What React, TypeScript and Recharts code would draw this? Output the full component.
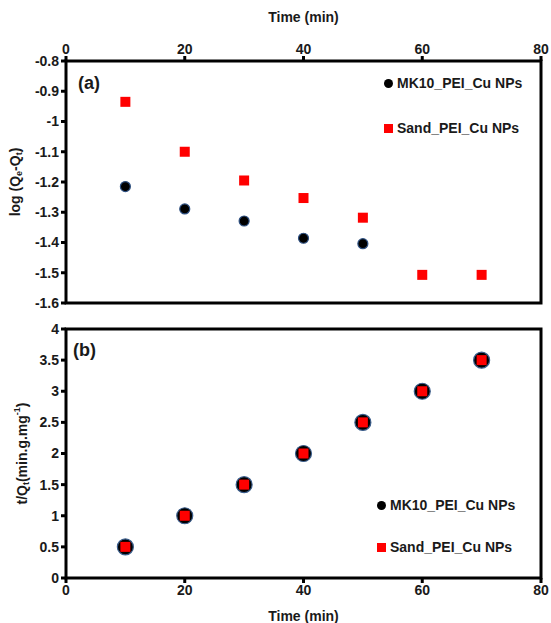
import { ScatterChart, Scatter, XAxis, YAxis, ReferenceArea, Legend } from 'recharts';

const FONT = '"Liberation Sans", Arial, sans-serif';

// time points (min)
const timeMin = [10, 20, 30, 40, 50, 60, 70];
const timeTicks = [0, 20, 40, 60, 80];

// (a) pseudo-first-order: log(Qe - Qt)
const mk10Log = [-1.215, -1.289, -1.329, -1.386, -1.404];
const sandLog = [-0.935, -1.1, -1.195, -1.253, -1.318, -1.507, -1.507];
const logTicks = [-1.6, -1.5, -1.4, -1.3, -1.2, -1.1, -1, -0.9, -0.8];

// (b) pseudo-second-order: t/Qt
const mk10TQ = [0.5, 1.0, 1.5, 2.0, 2.5, 3.0, 3.5];
const sandTQ = [0.5, 1.0, 1.5, 2.0, 2.5, 3.0, 3.5];
const tqTicks = [0, 0.5, 1, 1.5, 2, 2.5, 3, 3.5, 4];

const toPoints = (ys: number[]) => ys.map((y, i) => ({ x: timeMin[i], y }));

const tickStyle = { fill: '#1a1a1a', fontSize: 14, fontWeight: 'bold', fontFamily: FONT };
const tickLine = { stroke: '#000', strokeWidth: 3 };
const RED = '#ff0000';

const circleShape = (r: number, stroke: string) => (props: any) => (
  <circle cx={props.cx} cy={props.cy} r={r} fill="#000" stroke={stroke} strokeWidth={1.2} />
);
const squareShape = (s: number) => (props: any) => (
  <rect x={props.cx - s / 2} y={props.cy - s / 2} width={s} height={s} fill={RED} />
);

const makeLegend = (gap: number) => (props: any) => (
  <div style={{ fontFamily: FONT, fontWeight: 'bold', fontSize: 14, color: '#1a1a1a' }}>
    {(props.payload || []).map((entry: any, i: number) => (
      <div
        key={i}
        style={{ display: 'flex', alignItems: 'center', height: 20, marginBottom: gap, whiteSpace: 'nowrap' }}
      >
        {entry.type === 'square' ? (
          <span style={{ width: 9, height: 9, background: RED, marginRight: 4 }} />
        ) : (
          <span style={{ width: 9, height: 9, borderRadius: 5, background: '#000', marginRight: 4 }} />
        )}
        <span>{entry.value}</span>
      </div>
    ))}
  </div>
);

const panelLabel = (text: string, dx: number, dy: number) => (props: any) => (
  <text
    x={props.viewBox.x + dx}
    y={props.viewBox.y + dy}
    fontFamily={FONT}
    fontWeight="bold"
    fontSize={18}
    fill="#1a1a1a"
  >
    {text}
  </text>
);

const LogLabel = (props: any) => {
  const { x, y, height } = props.viewBox;
  const cx = x + 15;
  const cy = y + height / 2;
  return (
    <text
      transform={`translate(${cx},${cy}) rotate(-90)`}
      textAnchor="middle"
      dominantBaseline="central"
      fontFamily={FONT}
      fontWeight="bold"
      fontSize={14}
      fill="#1a1a1a"
    >
      log (Q<tspan fontSize={9} dy={4}>e</tspan>
      <tspan dy={-4}>-Q</tspan>
      <tspan fontSize={9} dy={4}>t</tspan>
      <tspan dy={-4}>)</tspan>
    </text>
  );
};

const TQLabel = (props: any) => {
  const { x, y, height } = props.viewBox;
  const cx = x + 22;
  const cy = y + height / 2;
  return (
    <text
      transform={`translate(${cx},${cy}) rotate(-90)`}
      textAnchor="middle"
      dominantBaseline="central"
      fontFamily={FONT}
      fontWeight="bold"
      fontSize={14}
      fill="#1a1a1a"
    >
      t/Q<tspan fontSize={9} dy={4}>t</tspan>
      <tspan dy={-4}>(min.g.mg</tspan>
      <tspan fontSize={9} dy={-5}>-1</tspan>
      <tspan dy={5}>)</tspan>
    </text>
  );
};

const axisTitle = { value: 'Time (min)', fill: '#1a1a1a', fontSize: 14, fontWeight: 'bold', fontFamily: FONT };

export default function App() {
  return (
    <div style={{ position: 'absolute', left: 0, top: 0, width: 551, height: 623, background: '#fff' }}>
      <ScatterChart width={551} height={318} margin={{ top: 0, right: 10, bottom: 15, left: 0 }}>
        <XAxis
          type="number"
          dataKey="x"
          orientation="top"
          domain={[0, 80]}
          ticks={timeTicks}
          height={61}
          tick={tickStyle}
          tickLine={tickLine}
          tickSize={5}
          axisLine={false}
          label={{ ...axisTitle, position: 'insideTop', offset: 12 }}
        />
        <YAxis
          type="number"
          dataKey="y"
          domain={[-1.6, -0.8]}
          ticks={logTicks}
          width={66}
          tick={tickStyle}
          tickLine={tickLine}
          tickSize={5}
          axisLine={false}
          label={LogLabel}
        />
        <ReferenceArea
          x1={0}
          x2={80}
          y1={-1.6}
          y2={-0.8}
          fill="none"
          fillOpacity={0}
          stroke="#000"
          strokeWidth={3}
          label={panelLabel('(a)', 12, 28)}
        />
        <Legend
          layout="vertical"
          align="center"
          verticalAlign="middle"
          wrapperStyle={{ left: 384, top: 73, width: 'auto' }}
          content={makeLegend(25)}
        />
        <Scatter
          name="MK10_PEI_Cu NPs"
          data={toPoints(mk10Log)}
          fill="#000"
          legendType="circle"
          shape={circleShape(5, '#2d4f80')}
          isAnimationActive={false}
        />
        <Scatter
          name="Sand_PEI_Cu NPs"
          data={toPoints(sandLog)}
          fill={RED}
          legendType="square"
          shape={squareShape(10)}
          isAnimationActive={false}
        />
      </ScatterChart>
      <ScatterChart width={551} height={305} margin={{ top: 11, right: 10, bottom: 0, left: 0 }}>
        <XAxis
          type="number"
          dataKey="x"
          orientation="bottom"
          domain={[0, 80]}
          ticks={timeTicks}
          height={45}
          tick={tickStyle}
          tickLine={tickLine}
          tickSize={5}
          axisLine={false}
          label={{ ...axisTitle, position: 'insideBottom', offset: 2 }}
        />
        <YAxis
          type="number"
          dataKey="y"
          domain={[0, 4]}
          ticks={tqTicks}
          width={66}
          tick={tickStyle}
          tickLine={tickLine}
          tickSize={5}
          axisLine={false}
          label={TQLabel}
        />
        <ReferenceArea
          x1={0}
          x2={80}
          y1={0}
          y2={4}
          fill="none"
          fillOpacity={0}
          stroke="#000"
          strokeWidth={3}
          label={panelLabel('(b)', 7, 27)}
        />
        <Legend
          layout="vertical"
          align="center"
          verticalAlign="middle"
          wrapperStyle={{ left: 377, top: 177, width: 'auto' }}
          content={makeLegend(22)}
        />
        <Scatter
          name="MK10_PEI_Cu NPs"
          data={toPoints(mk10TQ)}
          fill="#000"
          legendType="circle"
          shape={circleShape(8, '#3b5e8c')}
          isAnimationActive={false}
        />
        <Scatter
          name="Sand_PEI_Cu NPs"
          data={toPoints(sandTQ)}
          fill={RED}
          legendType="square"
          shape={squareShape(10)}
          isAnimationActive={false}
        />
      </ScatterChart>
    </div>
  );
}
